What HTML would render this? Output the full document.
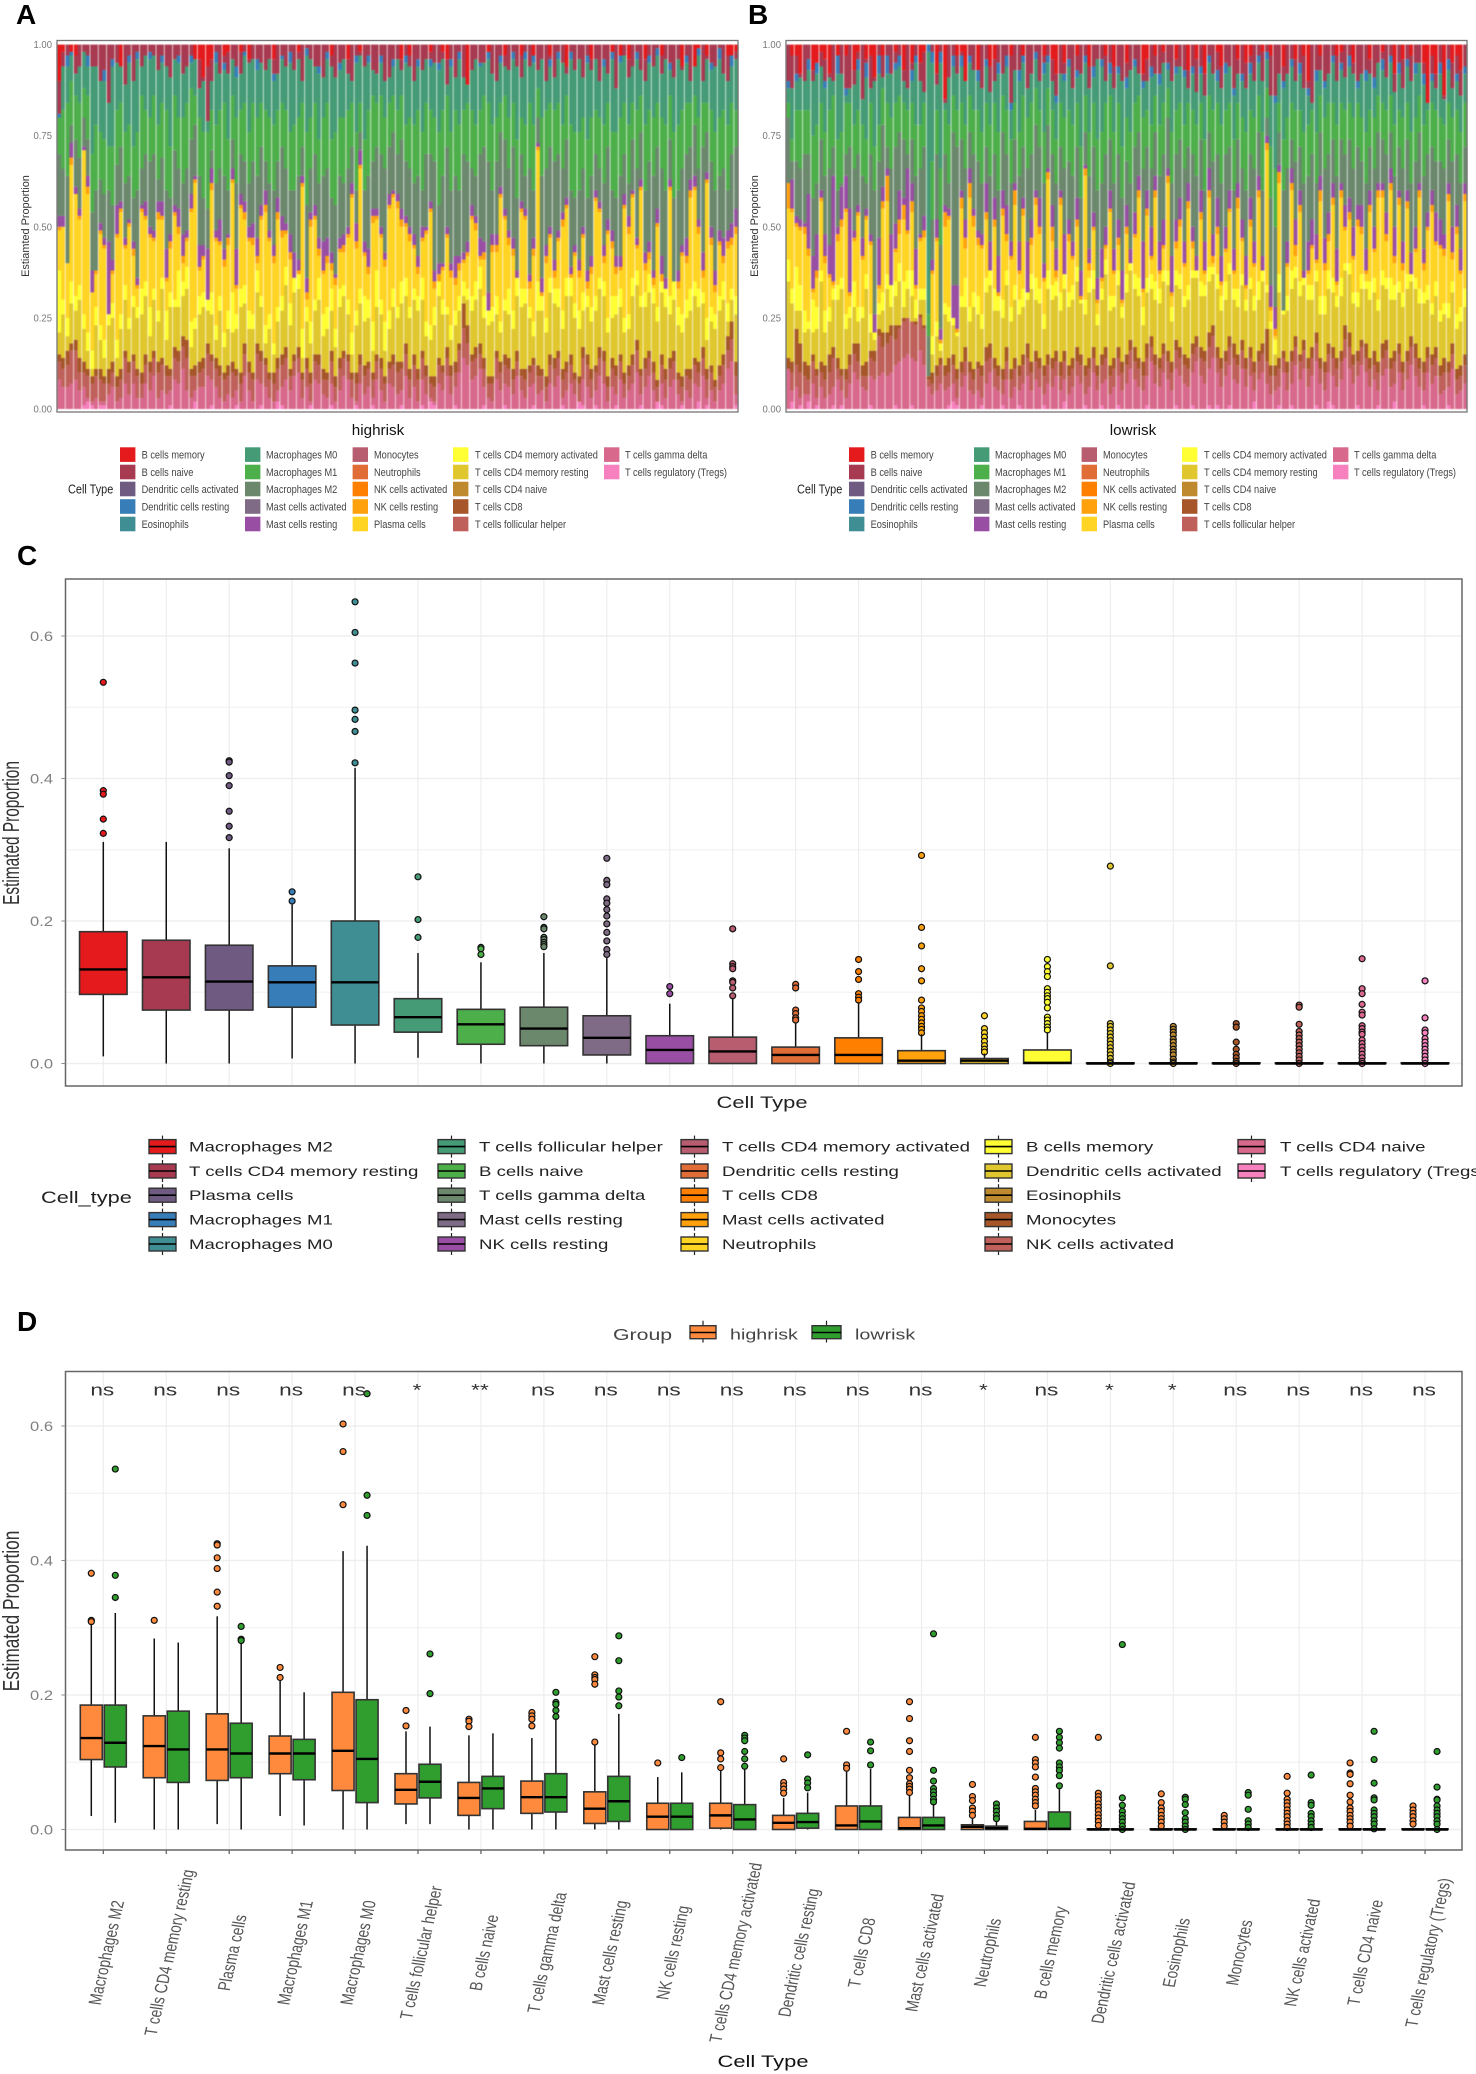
<!DOCTYPE html>
<html lang="en">
<head>
<meta charset="utf-8">
<title>Immune cell proportions by risk group</title>
<style>
html,body{margin:0;padding:0;background:#fff;width:1476px;height:2074px;overflow:hidden}
svg{display:block;font-family:"Liberation Sans",Arial,sans-serif}
.soft{filter:blur(.55px)}
</style>
</head>
<body>
<svg id="fig" xmlns="http://www.w3.org/2000/svg" width="1476" height="2074" viewBox="0 0 1476 2074">
<rect width="1476" height="2074" fill="#fff"/>
<text x="16" y="24" font-size="28" font-weight="bold" fill="#000">A</text>
<text x="748" y="24" font-size="28" font-weight="bold" fill="#000">B</text>
<text x="17" y="565" font-size="28" font-weight="bold" fill="#000">C</text>
<text x="17" y="1331" font-size="28" font-weight="bold" fill="#000">D</text>
</svg>
<script>
/* ---------- Panel A: cumulative top of each cell type per sample (%), highrisk ---------- */
const aTregs=[0,0,0,0,0,0,1,2,1,0,1,1,0,0,0,0,0,0,0,0,0,0,0,0,0,0,0,1,0,0,0,0,0,2,0,0,0,1,0,0,0,0,0,1,0,0,0,0,0,1,0,0,0,2,1,0,0,0,0,0,0,1,0,0,0,0,1,0,0,0,0,0,1,0,0,0,1,0,0,0,0,0,0,1,0,0,0,0,1,0,2,1,0,0,0,0,1,0,0,0,0,0,0,1,0,0,0,0,1,0,0,0,0,0,0,1,0,0,0,0,0,0,1,0,0,0,2,1,0,0,1,0,0,0,0,1,0,0,0,0,0,1,0,0,0,2,1,0,0,0,0,1,0,0,0,2,0,1,0,0,0,0,0,0,1];
const aGamma=[8,6,6,7,8,5,6,3,2,3,2,2,4,6,2,3,7,4,7,3,3,7,5,9,3,5,4,5,8,7,11,5,3,5,6,6,9,8,6,3,2,4,3,5,2,9,5,2,8,7,6,3,2,5,6,8,5,9,10,3,6,2,8,7,4,3,7,2,5,9,8,3,2,7,4,6,3,8,5,2,7,6,4,5,9,3,6,2,8,4,3,2,7,5,9,4,6,10,14,12,8,9,11,6,3,2,8,5,7,6,4,9,5,3,6,7,4,5,2,7,6,9,3,5,7,4,2,8,6,3,5,9,7,2,6,4,8,3,5,7,10,4,6,9,5,2,7,3,6,8,4,2,5,3,7,6,9,3,5,2,5,7,11,13,4];
const aFollicular=[13,11,12,16,16,10,10,9,7,9,8,7,7,10,6,8,14,10,13,9,7,12,10,14,10,12,9,9,14,13,17,14,9,9,10,11,15,13,11,9,8,9,10,9,7,15,10,8,15,13,12,8,7,11,12,14,9,13,14,8,11,7,13,12,8,8,13,6,11,14,13,8,7,12,9,11,8,13,11,7,11,12,10,11,15,8,12,8,14,9,7,6,12,10,14,9,10,16,22,18,13,14,15,11,7,7,14,10,12,11,8,13,9,8,10,12,9,9,6,12,11,14,8,10,12,8,7,14,12,8,10,14,13,6,11,9,13,7,9,12,16,9,11,14,10,6,12,8,11,13,8,6,9,8,12,10,14,8,10,6,9,12,16,19,9];
const aCD8=[15,14,16,18,19,14,13,11,9,11,11,9,11,13,9,11,16,13,15,11,10,15,13,16,13,14,12,11,17,16,20,19,11,12,13,14,18,15,14,12,10,12,13,11,10,18,13,10,18,16,14,10,10,14,15,17,11,15,17,10,14,10,15,15,11,10,16,9,14,16,15,10,10,15,12,13,10,15,14,9,13,15,13,13,18,11,15,11,16,12,9,9,14,12,17,12,13,18,29,23,15,17,18,14,9,9,16,13,15,14,11,16,11,11,12,14,12,11,9,15,14,16,11,13,15,10,9,17,15,11,12,17,16,9,14,12,15,10,12,15,19,11,14,16,13,8,15,11,14,16,10,9,11,11,14,13,17,11,12,8,12,15,20,24,13];
const aCD4Rest=[21,26,20,29,27,30,22,16,11,23,19,14,23,25,14,22,30,22,28,25,26,31,20,30,24,33,19,28,28,28,31,33,17,22,26,28,27,26,19,27,17,22,21,22,28,29,22,22,32,28,18,22,15,24,27,34,23,32,33,14,24,18,27,30,20,22,27,17,28,31,26,15,23,29,24,25,16,28,26,16,22,28,25,29,31,25,30,27,30,20,19,23,31,26,26,19,23,27,31,30,27,30,33,25,23,24,26,21,27,26,22,31,28,29,25,20,27,27,21,32,29,28,22,31,31,25,22,27,28,24,27,33,31,21,25,26,28,21,22,31,34,28,28,32,29,24,32,28,26,30,23,21,25,27,31,28,29,19,24,22,27,30,24,30,26];
const aCD4Act=[38,30,25,35,31,34,26,21,16,28,23,19,26,29,19,26,34,25,31,28,33,35,28,33,27,36,27,32,30,38,35,39,24,25,31,32,30,32,23,31,21,27,32,26,33,34,27,26,38,31,23,26,18,28,31,39,29,36,37,22,28,24,30,36,26,28,33,22,33,34,30,21,27,33,31,30,24,38,30,24,27,33,28,35,36,28,33,31,36,24,23,28,35,30,28,23,27,31,35,33,31,35,39,31,27,28,31,24,30,33,27,36,33,33,28,24,35,31,25,36,33,33,27,36,36,29,27,32,31,28,31,36,35,25,31,31,33,25,26,36,38,31,32,37,33,28,35,33,31,35,28,26,30,33,35,33,32,25,28,26,31,35,29,33,31];
const aPlasma=[49,50,40,67,59,52,71,59,32,37,48,44,25,37,47,54,44,50,42,33,54,52,47,46,52,52,35,44,53,48,40,46,54,62,38,41,28,60,46,45,39,45,62,33,55,52,46,45,40,52,54,46,40,52,47,48,41,34,37,61,30,50,52,42,37,40,38,34,43,43,47,58,44,66,42,37,51,52,47,39,55,58,55,50,50,46,44,37,46,48,54,33,35,38,47,36,34,38,40,42,52,49,41,41,25,43,43,58,52,45,42,33,54,52,33,42,71,31,40,47,36,46,50,55,35,42,36,47,33,37,57,54,40,48,44,37,38,55,48,58,44,60,38,41,34,50,35,30,60,27,33,42,40,58,60,48,36,62,45,32,45,40,44,45,48];
const aNKRest=[50,50,40,69,59,53,71,61,32,38,49,45,25,38,48,55,45,51,44,34,55,53,48,47,54,53,36,46,54,50,42,47,55,63,39,42,30,62,47,46,41,47,63,34,56,54,47,47,42,53,56,47,42,54,49,49,43,36,38,62,32,52,53,44,38,42,40,36,44,45,48,59,46,67,43,39,53,53,48,41,56,59,57,52,51,48,45,39,47,49,55,35,37,39,48,38,36,40,41,43,53,51,42,43,26,45,45,59,53,47,44,35,55,53,35,44,72,32,42,48,38,47,52,56,37,43,38,48,35,39,58,55,42,49,46,39,39,56,50,59,45,61,40,43,36,51,37,32,61,29,35,43,42,60,61,50,38,63,47,34,46,42,46,47,50];
const aMastRest=[53,53,40,73,61,55,72,64,38,38,51,47,46,41,56,57,47,52,46,36,56,57,50,49,57,57,44,48,56,55,48,49,59,64,45,45,44,66,49,52,44,48,66,44,59,57,50,51,47,56,60,49,45,58,53,51,48,43,41,64,36,54,56,47,46,47,43,37,47,48,50,62,51,71,46,44,55,55,50,43,59,60,59,55,53,50,48,42,50,50,57,38,40,40,50,40,42,42,43,46,56,53,47,46,32,48,48,61,55,49,47,38,57,55,37,47,73,36,45,50,41,49,54,58,39,45,41,50,38,42,60,57,45,52,49,42,42,59,53,60,47,63,43,46,38,55,42,36,63,32,38,45,47,63,64,52,43,65,50,38,49,47,49,51,55];
const aM2=[70,66,64,78,74,69,80,74,54,60,63,59,60,56,67,72,62,64,58,60,66,70,68,70,63,69,60,58,71,66,62,66,74,78,64,58,55,71,62,66,64,60,74,62,70,68,62,68,64,72,68,62,60,68,72,66,60,60,64,72,56,66,70,62,64,66,58,56,64,62,66,72,60,76,60,64,68,72,70,66,72,76,70,74,68,66,62,64,60,70,70,68,56,64,72,60,64,60,70,68,66,64,70,72,68,60,68,76,74,66,72,58,70,64,66,60,80,64,66,72,68,70,66,74,60,58,60,66,58,64,70,66,62,72,60,58,64,70,62,74,66,76,60,68,64,72,66,60,74,58,60,66,70,72,78,66,72,76,68,60,64,66,60,70,72];
const aM1=[80,82,84,90,86,84,88,86,70,78,76,74,72,72,82,84,76,78,72,76,86,82,80,86,78,84,82,72,86,80,80,84,88,86,80,76,76,82,78,82,84,74,86,80,82,84,76,84,80,84,82,80,78,82,84,82,76,78,80,84,76,80,84,74,80,84,74,76,80,80,82,84,76,84,74,82,86,84,86,80,84,86,82,86,78,80,78,82,76,84,82,80,76,82,86,76,82,78,82,84,82,78,82,86,84,78,80,84,86,80,84,74,80,78,84,78,88,80,82,84,82,84,78,86,78,76,76,80,74,80,82,80,78,84,76,76,80,84,78,84,82,86,78,82,80,84,80,78,86,76,78,82,84,84,86,80,84,84,82,76,80,82,78,84,82];
const aM0=[79,94,94,97,92,94,98,94,94,94,90,90,84,94,95,94,89,95,90,96,94,97,96,97,93,95,94,91,96,95,92,94,95,96,88,90,79,90,95,92,93,92,96,91,92,97,95,96,93,95,93,96,90,92,96,94,95,93,96,90,97,96,94,92,91,96,94,91,93,96,92,90,95,97,94,95,93,92,95,90,91,94,96,93,95,94,90,94,93,96,94,95,93,96,89,94,91,96,91,89,93,96,94,95,96,92,90,95,94,93,96,94,91,96,94,95,93,96,90,94,91,96,95,92,96,93,96,91,95,93,96,90,94,92,96,88,95,97,91,94,96,93,90,95,94,97,92,96,93,91,96,93,95,90,94,97,90,96,93,94,96,92,90,94,96];
const aDCRest=[81,94,97,98,92,94,98,97,94,94,90,93,84,96,95,94,89,97,90,98,94,97,98,97,93,97,94,91,96,97,92,94,97,96,88,90,79,90,98,92,95,92,96,94,92,98,95,96,96,95,93,96,92,92,97,94,98,93,96,90,99,96,94,94,91,98,94,91,95,96,92,90,97,97,94,97,93,92,97,90,91,96,96,93,97,94,90,96,93,96,96,95,95,96,89,96,91,98,91,89,93,96,95,95,98,92,90,97,94,93,98,94,91,98,94,97,93,96,90,96,91,98,95,92,98,93,96,91,97,93,96,90,96,92,98,88,97,97,91,94,98,93,90,97,94,99,92,96,95,91,96,93,97,90,94,99,90,96,95,94,99,92,90,97,96];
const aBNaive=[90,98,100,96,97,100,100,100,100,100,100,100,100,100,100,91,100,100,100,100,100,100,100,100,100,100,100,100,100,100,100,100,100,96,96,91,94,96,100,100,97,98,100,100,98,100,96,100,100,100,100,100,96,100,100,100,100,100,98,100,100,100,100,100,100,100,97,100,100,100,96,100,100,98,100,100,100,100,100,100,100,100,100,96,100,97,100,100,100,100,98,100,100,98,96,100,100,100,100,86,100,100,100,100,96,100,100,100,97,100,100,100,97,100,100,96,100,100,100,97,100,100,100,94,100,100,100,100,100,96,100,100,100,100,96,100,93,100,96,100,100,100,96,100,100,100,97,100,100,100,100,94,100,100,92,96,100,97,100,100,100,100,97,94,98];

/* ---------- Panel B: cumulative top of each cell type per sample (%), lowrisk ---------- */
const bTregs=[0,2,0,1,0,2,0,1,0,0,0,1,0,1,0,0,0,0,0,0,1,0,0,0,0,0,1,0,0,0,1,0,0,0,0,0,0,0,0,1,2,1,0,0,0,0,0,1,0,0,0,0,1,0,0,0,1,0,0,0,0,0,1,0,0,0,0,2,0,0,0,0,1,0,0,0,1,0,0,0,1,0,0,0,0,0,0,1,0,0,0,0,0,0,1,0,0,0,1,0,0,0,1,0,1,0,0,1,0,0,0,0,0,2,0,0,0,0,0,1,0,0,1,0,0,0,0,0,1,0,0,2,1,0,0,0,0,0,1,0,0,0,0,1,0,0,0,2,0,0,0,0,0,0,1,0,0,0,0,0,1,0,0,0,0];
const bGamma=[11,5,6,3,4,4,7,3,6,3,4,6,8,5,3,7,10,8,6,5,9,8,9,10,9,10,12,13,14,15,14,13,16,12,6,4,5,7,5,6,7,3,6,9,5,4,5,3,7,10,6,5,4,8,3,6,5,7,9,5,8,6,4,7,6,9,5,8,4,6,9,7,4,6,10,5,7,8,4,6,9,5,7,11,8,6,5,9,13,7,6,10,8,5,11,9,7,6,10,13,9,7,11,14,10,6,9,12,8,7,11,6,9,5,8,10,7,4,5,6,10,5,7,12,8,11,6,9,13,7,5,10,9,6,8,14,11,7,9,12,10,6,8,5,9,11,6,7,10,5,8,12,9,6,5,10,7,9,4,5,6,11,4,5,7];
const bFollicular=[11,10,12,10,9,8,13,9,10,8,10,14,11,9,8,12,15,13,9,9,14,13,20,17,18,20,19,22,24,25,24,23,25,22,8,7,9,12,9,10,12,8,10,13,10,8,11,9,13,14,11,9,8,13,8,11,9,12,14,10,13,11,9,12,11,13,9,13,9,11,13,12,9,11,14,9,12,14,9,11,14,10,12,16,13,11,9,14,17,12,11,15,13,10,16,14,12,11,15,17,14,13,17,20,14,11,13,17,14,12,16,11,14,10,13,15,13,9,9,11,14,10,13,17,13,16,11,14,18,11,10,15,14,11,13,19,17,12,13,17,14,11,12,10,14,16,11,13,15,10,13,17,14,11,10,14,12,14,9,10,10,15,8,9,12];
const bCD8=[14,13,22,18,13,12,15,11,13,12,15,17,14,11,11,15,18,18,12,13,16,16,22,21,21,23,23,23,25,25,24,24,26,23,9,10,12,14,12,14,15,11,13,17,13,11,13,12,17,18,14,12,11,17,11,14,12,15,18,13,16,14,12,15,14,16,13,16,12,14,17,15,12,14,17,12,15,17,12,14,17,13,15,19,17,14,13,18,20,15,14,18,16,13,19,17,15,14,18,20,17,16,21,23,17,14,16,20,18,15,19,14,17,13,16,18,22,12,12,14,16,13,16,20,15,19,14,17,21,14,13,18,17,14,16,23,21,15,16,19,18,14,16,13,18,19,14,16,18,13,16,20,18,14,13,17,15,17,12,14,13,18,11,12,15];
const bCD4Rest=[35,29,27,27,21,22,21,22,35,21,24,30,30,33,22,25,28,24,25,33,21,19,26,27,33,28,31,35,28,33,31,25,30,30,8,15,20,16,26,24,23,20,28,28,24,28,26,22,32,34,27,27,25,34,24,30,26,28,30,33,30,29,22,33,30,31,27,33,28,30,35,29,26,32,33,23,30,37,27,28,34,25,32,38,33,31,23,32,33,30,29,35,34,24,34,33,28,30,36,36,31,31,35,37,33,27,30,37,30,28,34,27,33,27,30,35,32,22,15,32,26,27,33,36,31,34,30,30,35,26,26,33,32,28,31,38,37,29,28,33,33,30,32,27,34,33,30,30,32,28,33,35,33,29,29,30,26,31,24,26,25,32,22,24,28];
const bCD4Act=[41,33,39,34,27,24,30,28,38,27,28,33,34,36,26,28,35,28,28,37,26,21,29,32,37,34,35,40,35,38,38,30,33,33,8,20,24,18,29,28,25,21,31,36,28,32,31,26,36,38,33,31,30,38,28,34,30,33,32,37,36,33,26,38,34,35,32,37,32,34,39,30,30,36,38,26,33,41,31,31,38,28,37,40,37,36,28,36,37,35,33,38,38,28,38,37,31,34,38,38,35,34,39,39,37,31,35,40,33,33,37,30,36,31,35,38,34,24,19,37,27,31,38,39,35,36,34,34,38,31,31,38,36,31,36,40,40,32,32,37,35,35,36,30,38,36,36,34,35,32,37,37,36,33,32,34,29,35,27,29,29,35,26,28,33];
const bPlasma=[55,54,50,49,48,42,32,36,57,40,36,34,46,50,54,31,46,53,41,52,45,20,33,55,57,31,43,48,52,48,54,33,46,47,7,37,46,18,50,52,22,21,55,44,58,50,45,44,52,37,50,31,53,46,41,56,37,53,27,45,56,48,35,63,46,36,56,34,46,41,50,30,64,38,49,29,35,44,54,37,45,29,48,35,47,58,32,53,41,58,37,44,62,31,44,50,39,55,44,35,52,37,58,40,48,34,43,54,37,55,46,33,50,39,58,35,71,27,20,62,19,39,60,42,54,31,37,44,40,57,38,46,56,34,58,49,52,41,50,48,37,54,43,58,58,46,60,40,56,38,55,35,43,58,38,49,54,45,44,42,57,41,48,37,57];
const bNKRest=[62,55,51,50,50,44,33,38,58,42,37,35,48,52,55,32,47,54,42,53,46,21,34,57,64,33,44,52,56,49,57,34,47,49,8,38,47,19,54,53,24,22,58,47,62,53,47,45,54,38,52,32,55,48,42,60,38,55,28,47,58,50,36,65,50,38,58,35,48,42,52,31,66,40,50,30,36,45,55,38,47,30,50,36,48,60,33,55,42,60,38,45,64,32,46,52,40,57,46,36,54,38,60,42,50,35,44,55,38,58,47,34,52,40,60,36,73,28,22,65,20,40,62,45,56,32,38,45,41,60,40,48,58,35,60,50,54,42,52,50,38,56,44,60,60,48,62,42,58,40,57,36,44,60,40,50,56,46,45,44,59,43,50,38,59];
const bMastRest=[62,63,53,52,51,59,42,48,60,48,45,64,50,61,64,55,49,56,47,55,48,26,47,61,66,48,51,60,58,66,62,44,48,53,9,41,52,22,56,55,34,34,60,52,66,55,49,48,62,46,58,42,60,56,46,62,46,58,46,52,60,58,40,66,56,44,60,48,52,46,58,38,67,44,54,36,44,50,60,44,52,38,56,44,54,64,46,60,50,64,46,52,66,42,52,58,46,62,50,42,60,46,66,48,58,42,50,60,44,62,52,42,58,46,64,42,75,34,28,67,24,46,66,52,60,38,46,52,48,64,47,54,62,44,62,56,58,50,56,56,44,60,50,62,62,54,66,50,60,46,60,43,50,62,44,54,60,54,52,48,62,50,56,44,62];
const bM2=[80,68,68,66,70,70,58,62,74,64,66,72,60,62,70,72,66,70,64,62,70,60,68,78,72,66,72,76,74,70,74,64,66,72,20,52,70,45,70,62,76,72,74,66,76,70,68,62,72,64,70,60,76,70,62,74,64,72,66,70,78,72,62,78,70,62,72,66,68,64,72,58,76,64,72,60,62,70,74,62,70,58,68,62,72,76,66,72,66,76,64,70,80,62,70,74,66,72,70,64,74,60,76,68,70,62,70,72,60,74,66,60,70,66,76,60,80,58,50,76,60,66,74,68,72,62,64,70,62,76,66,70,74,64,74,70,74,66,72,68,62,72,66,76,74,70,76,64,72,66,74,62,68,76,64,70,72,68,68,66,74,68,70,62,72];
const bM1=[84,74,82,82,82,82,75,78,84,76,82,86,74,76,84,84,78,82,78,74,84,72,78,88,84,80,84,86,84,82,84,78,78,84,26,68,82,66,82,78,86,82,84,78,86,82,82,76,84,78,84,76,86,82,74,84,76,86,80,84,88,82,76,88,82,74,84,80,82,78,84,72,86,76,84,74,76,84,86,76,84,72,80,76,84,86,80,82,78,86,78,84,88,76,82,84,78,84,82,78,84,74,86,82,84,78,82,84,74,84,80,76,82,80,86,76,88,72,66,84,74,80,84,82,82,76,78,82,76,86,80,84,84,78,84,82,84,80,84,80,76,82,80,86,84,82,86,78,82,80,84,76,80,86,78,82,84,82,80,78,84,80,82,76,84];
const bM0=[88,88,90,91,90,93,90,92,94,88,91,90,92,92,86,88,89,93,85,91,88,90,92,91,92,92,93,94,90,88,90,95,90,87,98,95,89,95,84,91,94,92,94,90,95,93,90,88,94,87,90,92,92,94,82,93,90,95,88,92,96,90,92,95,90,84,92,90,94,88,91,92,95,88,91,96,94,90,92,88,92,90,88,93,94,92,88,90,91,92,89,95,93,90,92,94,91,88,92,87,92,86,95,92,90,88,92,94,86,92,90,88,92,90,95,90,96,86,84,92,88,92,94,90,92,88,86,84,90,93,88,92,95,90,93,91,94,92,88,92,90,92,88,95,93,91,95,87,92,88,94,90,92,95,89,84,90,88,92,85,93,88,90,86,92];
const bDCRest=[90,88,92,91,90,96,90,95,94,90,91,90,97,92,88,88,89,96,85,95,88,90,97,91,97,92,95,97,90,88,93,97,90,87,100,98,89,98,84,91,97,92,97,90,97,93,93,88,96,87,90,95,92,97,84,93,93,97,88,92,98,90,95,97,90,86,92,92,96,88,93,92,97,88,94,96,96,90,95,88,94,90,91,93,96,92,90,90,94,92,92,95,95,90,94,94,93,88,94,87,94,86,97,92,93,88,95,94,88,92,92,88,95,90,97,90,98,86,86,92,90,92,96,90,95,88,88,84,93,93,90,92,97,90,95,91,97,92,90,92,93,92,91,95,96,91,97,87,95,88,96,90,95,95,92,84,92,88,95,85,96,88,92,86,94];
const bBNaive=[100,97,97,92,100,100,93,90,98,96,92,100,95,100,97,100,93,98,100,96,97,91,100,97,100,100,98,100,93,100,95,100,95,98,100,100,92,100,85,100,100,97,98,80,100,100,92,100,100,94,96,100,100,100,97,100,100,96,100,100,100,100,97,100,96,92,100,95,100,100,97,100,100,94,100,100,100,97,100,94,100,100,95,100,100,100,92,96,100,97,100,98,100,100,96,100,100,93,100,96,100,92,100,100,98,94,100,100,100,96,100,95,97,100,100,98,100,97,100,100,94,100,100,96,100,97,90,100,100,97,100,100,100,97,98,100,100,95,100,100,100,96,100,100,98,100,100,92,100,96,100,97,100,100,95,75,97,92,100,86,100,95,97,93,100];

/* ---------- Panels A/B legend and ticks ---------- */
const stackTickLabels=["0.00","0.25","0.50","0.75","1.00"];
const stackTickValues=[0,0.25,0.5,0.75,1];
const stackLegendNames=["B cells memory","B cells naive","Dendritic cells activated","Dendritic cells resting","Eosinophils","Macrophages M0","Macrophages M1","Macrophages M2","Mast cells activated","Mast cells resting","Monocytes","Neutrophils","NK cells activated","NK cells resting","Plasma cells","T cells CD4 memory activated","T cells CD4 memory resting","T cells CD4 naive","T cells CD8","T cells follicular helper","T cells gamma delta","T cells regulatory (Tregs)"];
const stackLegendColors=["#E41A1C","#A73A50","#6F5A82","#377EB8","#3E8E93","#449B75","#4DAF4A","#6B886D","#7F6B85","#984EA3","#B85C6F","#E06C36","#FF7F00","#FFA10D","#FFD422","#FFFF33","#E0C72E","#BE8A2D","#A65628","#C0605A","#D8688C","#F781BF"];

/* ---------- Panel C: box plot statistics ---------- */
const boxCategories=["Macrophages M2","T cells CD4 memory resting","Plasma cells","Macrophages M1","Macrophages M0","T cells follicular helper","B cells naive","T cells gamma delta","Mast cells resting","NK cells resting","T cells CD4 memory activated","Dendritic cells resting","T cells CD8","Mast cells activated","Neutrophils","B cells memory","Dendritic cells activated","Eosinophils","Monocytes","NK cells activated","T cells CD4 naive","T cells regulatory (Tregs)"];
const boxColors=["#E41A1C","#A73A50","#6F5A82","#377EB8","#3E8E93","#449B75","#4DAF4A","#6B886D","#7F6B85","#984EA3","#B85C6F","#E06C36","#FF7F00","#FFA10D","#FFD422","#FFFF33","#E0C72E","#BE8A2D","#A65628","#C0605A","#D8688C","#F781BF"];
const cQ1=[.097,.075,.075,.079,.054,.044,.027,.025,.012,0,0,0,0,0,0,0,0,0,0,0,0,0];
const cMedian=[.132,.121,.115,.114,.114,.065,.055,.049,.036,.019,.017,.012,.012,.004,.004,.001,0,0,0,0,0,0];
const cQ3=[.185,.173,.166,.137,.2,.091,.076,.079,.067,.039,.037,.023,.036,.018,.007,.019,.001,.001,.001,.001,.001,.001];
const cWhiskerLow=[.01,0,0,.007,0,.008,0,0,0,0,0,0,0,0,0,0,0,0,0,0,0,0];
const cWhiskerHigh=[.311,.311,.302,.223,.415,.155,.142,.155,.148,.084,.092,.057,.086,.041,.014,.044,.001,.001,.001,.001,.001,.001];
const cOutliers=[
[.535,.383,.378,.343,.323],[],[.425,.423,.404,.39,.354,.333,.317],[.241,.228],[.648,.605,.562,.496,.483,.466,.422],
[.262,.202,.177],[.163,.161,.153],[.206,.191,.189,.177,.174,.17,.167,.164],[.288,.257,.251,.231,.225,.216,.207,.196,.184,.172,.16,.153],[.108,.098],
[.189,.14,.136,.133,.116,.114,.106,.095],[.111,.106,.075,.07,.064,.061],[.146,.129,.118,.098,.093,.089],[.292,.191,.165,.133,.116,.089,.078,.073,.067,.062,.057,.052,.048,.043],[.067,.049,.043,.037,.031,.025,.02,.016],
[.146,.136,.129,.122,.105,.1,.095,.091,.086,.078,.065,.061,.056,.051,.047],[.277,.137,.056,.052,.047,.042,.037,.032,.027,.022,.017,.012,.007,.002,0],[.052,.048,.044,.04,.034,.03,.025,.02,.016,.012,.006,.002,0],[.056,.051,.03,.02,.013,.008,.003,0],[.082,.079,.055,.045,.04,.035,.03,.025,.02,.015,.01,.005,0],
[.147,.105,.098,.083,.072,.068,.053,.049,.044,.041,.033,.028,.023,.018,.013,.008,.003,0],[.116,.064,.047,.043,.035,.03,.025,.02,.015,.01,.005,0]];
const boxTickValues=[0,.2,.4,.6];
const boxTickLabels=["0.0","0.2","0.4","0.6"];
const boxMinorValues=[.1,.3,.5];

/* ---------- Panel D: grouped box plot statistics ---------- */
const groupNames=["highrisk","lowrisk"];
const groupColors=["#FF8A3D","#2F9E2F"];
const signifLabels=["ns","ns","ns","ns","ns","*","**","ns","ns","ns","ns","ns","ns","ns","*","ns","*","*","ns","ns","ns","ns"];
const dHighQ1=[.104,.077,.073,.083,.058,.038,.021,.024,.009,0,.002,0,0,0,0,0,0,0,0,0,0,0];
const dHighMedian=[.136,.124,.119,.113,.117,.059,.047,.048,.031,.019,.021,.01,.006,.002,.004,.001,0,0,0,0,0,0];
const dHighQ3=[.185,.169,.172,.139,.204,.083,.07,.072,.056,.039,.039,.021,.035,.018,.007,.012,.001,.001,.001,.001,.001,.001];
const dHighWhiskerLow=[.02,0,.008,.02,0,.008,0,0,0,0,0,0,0,0,0,0,0,0,0,0,0,0];
const dHighWhiskerHigh=[.306,.284,.317,.221,.414,.146,.14,.136,.126,.078,.088,.047,.086,.051,.016,.029,.001,.001,.001,.001,.001,.001];
const dHighOutliers=[
[.381,.311,.309],[.311],[.425,.423,.404,.388,.353,.332],[.241,.226],[.603,.562,.483],
[.177,.154],[.164,.161,.153],[.174,.169,.164,.154],[.257,.23,.226,.223,.216,.13],[.099],
[.19,.114,.105,.092],[.105,.07,.065,.06,.054],[.146,.096,.091],[.19,.165,.132,.116,.088,.077,.068,.064,.06,.055],[.067,.049,.043,.032,.027,.021],
[.137,.104,.099,.093,.078,.061,.056,.051,.045,.04,.035],[.137,.054,.049,.044,.038,.033,.028,.022,.017,.012,.006],[.053,.04,.032,.027,.021,.016,.011,.005],[.021,.016,.011,.005],[.079,.054,.045,.04,.035,.029,.024,.019,.013,.008,.003],
[.099,.084,.082,.068,.051,.041,.032,.027,.021,.016,.011,.005],[.035,.029,.024,.019,.013,.008]];
const dLowQ1=[.093,.07,.077,.074,.04,.047,.031,.026,.012,0,0,.002,0,0,0,0,0,0,0,0,0,0];
const dLowMedian=[.129,.119,.113,.113,.105,.071,.061,.048,.042,.019,.015,.011,.012,.006,.002,.001,0,0,0,0,0,0];
const dLowQ3=[.185,.176,.158,.134,.193,.097,.079,.083,.079,.039,.037,.024,.035,.018,.005,.026,.001,.001,.001,.001,.001,.001];
const dLowWhiskerLow=[.01,0,0,.006,0,.008,0,0,0,0,0,0,0,0,0,0,0,0,0,0,0,0];
const dLowWhiskerHigh=[.322,.278,.277,.204,.422,.153,.143,.165,.172,.085,.09,.055,.09,.038,.012,.06,.001,.001,.001,.001,.001,.001];
const dLowOutliers=[
[.536,.378,.345],[],[.302,.283,.281],[],[.648,.497,.467],
[.261,.202],[],[.204,.189,.186,.177,.168],[.288,.251,.206,.197,.184],[.107],
[.14,.136,.132,.116,.105,.094],[.111,.075,.069,.062],[.13,.117,.096],[.291,.088,.072,.061,.056,.051,.045,.041],[.038,.032,.027,.021,.016],
[.146,.137,.129,.121,.099,.093,.088,.08,.065],[.275,.047,.036,.027,.021,.016,.011,.005,0],[.048,.045,.037,.025,.016,.011,.005,0],[.055,.051,.03,.013,.008,.003],[.081,.04,.036,.024,.019,.013,.008,.003],
[.146,.104,.069,.047,.044,.029,.024,.019,.013,.008,.001],[.116,.063,.045,.044,.035,.029,.024,.019,.013,.008,0]];

/* ---------- helpers ---------- */
const NS="http://www.w3.org/2000/svg";
const fig=document.getElementById("fig");
function make(tag,parent,attrs){
  const node=document.createElementNS(NS,tag);
  for(const k in attrs){node.setAttribute(k,attrs[k]);}
  parent.appendChild(node);
  return node;
}
function label(parent,x,y,str,size,sx,anchor,fill){
  const node=make("text",parent,{transform:"translate("+x+","+y+") scale("+sx+",1)","font-size":size,"text-anchor":anchor,fill:fill});
  node.textContent=str;
  return node;
}
function vlabel(parent,x,y,str,size,sx,angle,fill){
  const node=make("text",parent,{transform:"translate("+x+","+y+") scale("+sx+",1) rotate("+angle+")","font-size":size,"text-anchor":"middle",fill:fill});
  node.textContent=str;
  return node;
}

/* ---------- stacked bar panels ---------- */
function drawStack(prefix,dx,title,titleX,series){
  const panel=make("g",fig,{});
  
  
  const bars=make("g",panel,{class:"soft"});
  
  
  const left=57+dx,right=738+dx;
  const yS=v=>409-v*364.4;
  const n=series[0].values.length;
  const xS=i=>left+(right-left)*i/n;
  const barW=(right-left)/n;
  for(let i=0;i<n;i++){
    let prev=0;
    for(const s of series){
      const cur=Math.max(prev,Math.min(1,s.values[i]/100));
      if(cur>prev){
        const seg=make("rect",bars,{x:xS(i).toFixed(2),y:yS(cur).toFixed(2),width:(barW+.3).toFixed(2),height:(yS(prev)-yS(cur)).toFixed(2),fill:s.color});
        
        
      }
      prev=cur;
    }
    if(prev<1){
      const seg=make("rect",bars,{x:xS(i).toFixed(2),y:yS(1).toFixed(2),width:(barW+.3).toFixed(2),height:(yS(prev)-yS(1)).toFixed(2),fill:"#E41A1C"});
      
      
    }
  }
  for(let i=2;i<n;i+=2){
    const sep=make("line",bars,{x1:xS(i).toFixed(2),x2:xS(i).toFixed(2),y1:yS(1),y2:yS(0),stroke:"#fff","stroke-opacity":".7","stroke-width":"1"});
    
    
  }
  const frame=make("rect",panel,{x:left,y:40.5,width:right-left,height:371.5,fill:"none",stroke:"#777","stroke-width":"1.3"});
  
  
  stackTickValues.forEach((v,k)=>{
    const t=label(panel,left-5,yS(v)+3.5,stackTickLabels[k],10,.95,"end","#777");
    
    
  });
  const yt=vlabel(panel,left-28,226,"Estiamted Proportion",10.9,1,-90,"#333");
  
  
  const tt=label(panel,titleX,435,title,14.5,1.05,"middle","#111");
  
  
  const lt=label(panel,68+dx,493.5,"Cell Type",13,.84,"start","#222");
  
  
  const keyX=[120,245,352.6,453,604];
  const textX=[141.6,266,374,475,625];
  const rowY=[454.6,472,489,506.5,524];
  stackLegendNames.forEach((nm,k)=>{
    const col=Math.floor(k/5),row=k%5;
    const key=make("rect",panel,{x:keyX[col]+dx,y:rowY[row]-7.3,width:15.4,height:14.6,fill:stackLegendColors[k]});
    
    
    const tx=label(panel,textX[col]+dx,rowY[row]+4,nm,11,.84,"start","#444");
    
    
  });
}
drawStack("a",0,"highrisk",378,[
 {values:aTregs,color:"#F781BF"},{values:aGamma,color:"#D8688C"},{values:aFollicular,color:"#C0605A"},{values:aCD8,color:"#A65628"},
 {values:aCD4Rest,color:"#E0C72E"},{values:aCD4Act,color:"#FFFF33"},{values:aPlasma,color:"#FFD422"},{values:aNKRest,color:"#FFA10D"},
 {values:aMastRest,color:"#984EA3"},{values:aM2,color:"#6B886D"},{values:aM1,color:"#4DAF4A"},{values:aM0,color:"#449B75"},
 {values:aDCRest,color:"#377EB8"},{values:aBNaive,color:"#A73A50"}]);
drawStack("b",729,"lowrisk",1133,[
 {values:bTregs,color:"#F781BF"},{values:bGamma,color:"#D8688C"},{values:bFollicular,color:"#C0605A"},{values:bCD8,color:"#A65628"},
 {values:bCD4Rest,color:"#E0C72E"},{values:bCD4Act,color:"#FFFF33"},{values:bPlasma,color:"#FFD422"},{values:bNKRest,color:"#FFA10D"},
 {values:bMastRest,color:"#984EA3"},{values:bM2,color:"#6B886D"},{values:bM1,color:"#4DAF4A"},{values:bM0,color:"#449B75"},
 {values:bDCRest,color:"#377EB8"},{values:bBNaive,color:"#A73A50"}]);

/* ---------- box drawing ---------- */
const xCat=i=>103.3+62.94*i;
function drawBox(parent,cx,w,q1,med,q3,lo,hi,outs,fill,yS){
  const box=make("g",parent,{});
  
  
  outs.forEach(v=>{
    const p=make("circle",box,{cx:cx,cy:yS(v).toFixed(2),r:"3",fill:fill,stroke:"#111","stroke-width":"1.2"});
    
    
  });
  const w1=make("line",box,{x1:cx,x2:cx,y1:yS(hi),y2:yS(q3),stroke:"#111","stroke-width":"1.5"});
  
  
  const w2=make("line",box,{x1:cx,x2:cx,y1:yS(q1),y2:yS(lo),stroke:"#111","stroke-width":"1.5"});
  
  
  const r=make("rect",box,{x:cx-w/2,y:yS(q3),width:w,height:Math.max(.2,yS(q1)-yS(q3)),fill:fill,stroke:"#333","stroke-width":"1.6"});
  
  
  const m=make("line",box,{x1:cx-w/2,x2:cx+w/2,y1:yS(med),y2:yS(med),stroke:"#000","stroke-width":"2.4"});
  
  
}
function drawGrid(parent,left,right,top,bottom,yS){
  boxMinorValues.forEach(v=>{
    const g=make("line",parent,{x1:left,x2:right,y1:yS(v),y2:yS(v),stroke:"#f2f2f2","stroke-width":"1.2"});
    
    
  });
  boxTickValues.forEach(v=>{
    const g=make("line",parent,{x1:left,x2:right,y1:yS(v),y2:yS(v),stroke:"#efefef","stroke-width":"1.6"});
    
    
  });
  boxCategories.forEach((c,i)=>{
    const g=make("line",parent,{x1:xCat(i),x2:xCat(i),y1:top,y2:bottom,stroke:"#ececec","stroke-width":"1.1"});
    
    
  });
}
function drawYAxis(parent,left,yS,titleY,titleSize,titleSx){
  boxTickValues.forEach((v,k)=>{
    const t=make("line",parent,{x1:left-4,x2:left,y1:yS(v),y2:yS(v),stroke:"#888","stroke-width":"1"});
    
    
    const tl=label(parent,53,yS(v)+5,boxTickLabels[k],14,1.18,"end","#7f7f7f");
    
    
  });
  const yt=vlabel(parent,19,titleY,"Estimated Proportion",titleSize,titleSx,-90,"#333");
  
  
}

/* ---------- Panel C ---------- */
const panelC=make("g",fig,{});


const yC=v=>1063.5-v*712.5;
drawGrid(panelC,65.5,1462,579,1086,yC);
boxCategories.forEach((c,i)=>{
  drawBox(panelC,xCat(i),47.5,cQ1[i],cMedian[i],cQ3[i],cWhiskerLow[i],cWhiskerHigh[i],cOutliers[i],boxColors[i],yC);
});
const frameC=make("rect",panelC,{x:65.5,y:579,width:1396.5,height:507,fill:"none",stroke:"#666","stroke-width":"1.5"});


drawYAxis(panelC,65.5,yC,833,15.4,1.5);
const xtC=label(panelC,762,1108,"Cell Type",16.5,1.33,"middle","#222");


const ltC=label(panelC,41,1203,"Cell_type",16.4,1.33,"start","#222");


const cKeyX=[149,438,681,985,1238];
const cTextX=[189,479,722,1026,1280];
const cRowY=[1146.6,1171,1195.2,1219.6,1244];
boxCategories.forEach((nm,k)=>{
  const col=Math.floor(k/5),row=k%5,kx=cKeyX[col],ry=cRowY[row];
  const whisk=make("line",panelC,{x1:kx+13.5,x2:kx+13.5,y1:ry-11,y2:ry+11,stroke:"#222","stroke-width":"1.2"});
  
  
  const keyBox=make("rect",panelC,{x:kx,y:ry-7,width:27,height:14,fill:boxColors[k],stroke:"#333","stroke-width":"1.4"});
  
  
  const keyMed=make("line",panelC,{x1:kx,x2:kx+27,y1:ry,y2:ry,stroke:"#000","stroke-width":"1.6"});
  
  
  const keyText=label(panelC,cTextX[col],ry+5,nm,14,1.33,"start","#222");
  
  
});

/* ---------- Panel D ---------- */
const panelD=make("g",fig,{});


const yD=v=>1829.5-v*672.5;
drawGrid(panelD,65.5,1462,1371.5,1850,yD);
boxCategories.forEach((c,i)=>{
  drawBox(panelD,xCat(i)-12,22,dHighQ1[i],dHighMedian[i],dHighQ3[i],dHighWhiskerLow[i],dHighWhiskerHigh[i],dHighOutliers[i],groupColors[0],yD);
  drawBox(panelD,xCat(i)+12,22,dLowQ1[i],dLowMedian[i],dLowQ3[i],dLowWhiskerLow[i],dLowWhiskerHigh[i],dLowOutliers[i],groupColors[1],yD);
  const sig=label(panelD,xCat(i)-1,1395.5,signifLabels[i],17,1.33,"middle","#333");
  
  
  const tick=make("line",panelD,{x1:xCat(i),x2:xCat(i),y1:1850,y2:1854,stroke:"#555","stroke-width":"1.2"});
  
  
  const tl=vlabel(panelD,xCat(i)+9,1953.5,c,13.7,1.3,-80,"#555");
  
  
});
const frameD=make("rect",panelD,{x:65.5,y:1371.5,width:1396.5,height:478.5,fill:"none",stroke:"#666","stroke-width":"1.5"});


drawYAxis(panelD,65.5,yD,1611,17.2,1.35);
const xtD=label(panelD,763,2067,"Cell Type",16.5,1.33,"middle","#111");


const ltD=label(panelD,613,1340,"Group",16,1.33,"start","#444");


const dKeyX=[690,812];
const dKeyW=[26,29];
const dTextX=[730,855];
groupNames.forEach((nm,k)=>{
  const cx=dKeyX[k]+dKeyW[k]/2;
  const whisk=make("line",panelD,{x1:cx,x2:cx,y1:1320.7,y2:1342.5,stroke:"#222","stroke-width":"1.2"});
  
  
  const keyBox=make("rect",panelD,{x:dKeyX[k],y:1325.7,width:dKeyW[k],height:13,fill:groupColors[k],stroke:"#333","stroke-width":"1.4"});
  
  
  const keyMed=make("line",panelD,{x1:dKeyX[k],x2:dKeyX[k]+dKeyW[k],y1:1332.5,y2:1332.5,stroke:"#000","stroke-width":"1.6"});
  
  
  const keyText=label(panelD,dTextX[k],1339.5,nm,14.5,1.36,"start","#444");
  
  
});
</script>
</body>
</html>
